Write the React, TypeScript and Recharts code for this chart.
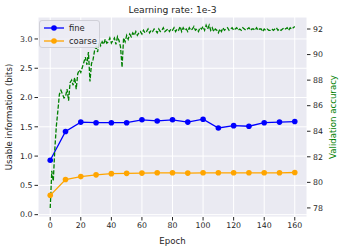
import React from 'react'
import { ComposedChart, Line, XAxis, YAxis, CartesianGrid, Label } from 'recharts'

// per-epoch validation accuracy (right axis)
const accuracy = [
  78.0, 80.9, 80.1, 82.6, 84.4, 85.6, 86.9, 87.2, 86.9, 86.6,
  86.7, 87.3, 86.4, 87.8, 88.0, 87.6, 88.2, 87.3, 88.5, 88.8,
  88.6, 89.0, 89.4, 89.8, 89.2, 90.2, 87.9, 89.3, 89.6, 90.3,
  90.6, 90.2, 91.0, 90.7, 91.0, 90.8, 91.2, 90.9, 91.0, 91.3,
  90.9, 91.1, 91.3, 90.8, 91.4, 91.1, 90.6, 89.0, 91.3, 91.0,
  91.5, 91.2, 91.6, 91.4, 91.7, 91.5, 91.8, 91.5, 91.7, 91.8,
  91.6, 91.9, 91.7, 91.8, 92.0, 91.7, 91.9, 91.8, 92.0, 91.9,
  91.7, 92.0, 91.8, 91.9, 92.1, 91.8, 91.9, 92.0, 91.8, 92.0,
  91.9, 92.1, 91.8, 92.0, 91.9, 92.2, 91.8, 92.1, 91.9, 92.0,
  91.8, 92.1, 91.9, 92.0, 92.2, 91.9, 92.0, 91.8, 92.1, 92.0,
  92.2, 91.9, 92.3, 92.0, 92.3, 91.9, 92.1, 91.8, 92.0, 91.9,
  91.7, 92.0, 91.8, 92.1, 91.9, 92.0, 92.1, 91.9, 92.0, 92.1,
  91.9, 92.0, 92.1, 91.9, 92.0, 91.9, 92.1, 92.0, 91.9, 92.0,
  92.1, 91.9, 92.0, 92.0, 91.9, 92.1, 91.9, 92.0, 92.0, 91.8,
  92.0, 91.9, 92.0, 91.9, 91.9, 92.0, 91.9, 92.0, 92.1, 91.9,
  92.0, 91.9, 92.0, 92.1, 92.0, 92.1, 91.9, 92.1, 92.0, 92.1, 92.2,
]

// usable information, measured every 10 epochs
const infoEpochs = [0, 10, 20, 30, 40, 50, 60, 70, 80, 90, 100, 110, 120, 130, 140, 150, 160]
const fine = [0.93, 1.42, 1.58, 1.57, 1.57, 1.57, 1.62, 1.6, 1.62, 1.58, 1.63, 1.48, 1.52, 1.51, 1.57, 1.58, 1.59]
const coarse = [0.33, 0.6, 0.65, 0.68, 0.7, 0.705, 0.71, 0.715, 0.715, 0.71, 0.715, 0.715, 0.715, 0.715, 0.715, 0.715, 0.72]

const xTicks = [0, 20, 40, 60, 80, 100, 120, 140, 160]
const leftTicks = [0, 0.5, 1, 1.5, 2, 2.5, 3]
const rightTicks = [78, 80, 82, 84, 86, 88, 90, 92]

const data = accuracy.map((acc, epoch) => {
  const i = infoEpochs.indexOf(epoch)
  return {
    epoch,
    acc,
    fine: i >= 0 ? fine[i] : null,
    coarse: i >= 0 ? coarse[i] : null,
  }
})

const FONT = 'DejaVu Sans, sans-serif'
const TEXT = '#262626'
const BLUE = '#0000ff'
const ORANGE = '#ffa500'
const GREEN = '#008000'

const legendItems = [
  { name: 'fine', color: BLUE },
  { name: 'coarse', color: ORANGE },
]

const LegendBox = () => (
  <div
    style={{
      position: 'absolute',
      left: 39,
      top: 20,
      background: 'rgba(236,236,244,0.85)',
      border: '1px solid #d0d0d8',
      borderRadius: 3,
      padding: '0px 0 0px 3px',
      width: 61,
      height: 28,
      boxSizing: 'border-box',
    }}
  >
    {legendItems.map((it) => (
      <div key={it.name} style={{ display: 'flex', alignItems: 'center', height: 13 }}>
        <svg width={22} height={10}>
          <line x1={1} y1={5} x2={21} y2={5} stroke={it.color} strokeWidth={1.3} />
          <circle cx={11} cy={5} r={2.8} fill={it.color} />
        </svg>
        <span style={{ fontSize: 8.4, color: TEXT, marginLeft: 4, fontFamily: FONT }}>{it.name}</span>
      </div>
    ))}
  </div>
)

const tickStyle = { fontSize: 7.8, fill: TEXT, fontFamily: FONT }

export default function App() {
  return (
    <div style={{ position: 'absolute', left: 0, top: 0, width: 343, height: 251, fontFamily: FONT }}>
      <div
        style={{
          position: 'absolute',
          left: 38,
          width: 269,
          top: 4,
          textAlign: 'center',
          fontSize: 9.2,
          color: TEXT,
          lineHeight: '12px',
        }}
      >
        Learning rate: 1e-3
      </div>
      <ComposedChart width={343} height={251} data={data} margin={{ top: 17, right: 0, bottom: 0, left: 0 }}>
        <CartesianGrid yAxisId="left" fill="#eaeaf2" stroke="#ffffff" strokeWidth={1} />
        <XAxis
          dataKey="epoch"
          type="number"
          domain={[-8, 168]}
          ticks={xTicks}
          height={34}
          axisLine={false}
          tickSize={3.5}
          tickMargin={2}
          tickLine={{ stroke: TEXT }}
          tick={tickStyle}
          allowDataOverflow
        >
          <Label
            content={() => (
              <text x={172.5} y={244} textAnchor="middle" fontSize={8.6} fill={TEXT} fontFamily={FONT}>
                Epoch
              </text>
            )}
          />
        </XAxis>
        <YAxis
          yAxisId="left"
          orientation="left"
          type="number"
          domain={[-0.04, 3.375]}
          ticks={leftTicks}
          tickFormatter={(v: number) => v.toFixed(1)}
          width={38}
          axisLine={false}
          tickSize={3.5}
          tickMargin={2}
          tickLine={{ stroke: TEXT }}
          tick={tickStyle}
          allowDataOverflow
        >
          <Label
            content={() => (
              <text
                x={12}
                y={117}
                textAnchor="middle"
                fontSize={8.6}
                fill={TEXT}
                fontFamily={FONT}
                transform="rotate(-90 12 117)"
              >
                Usable information (bits)
              </text>
            )}
          />
        </YAxis>
        <YAxis
          yAxisId="right"
          orientation="right"
          type="number"
          domain={[77.29, 92.94]}
          ticks={rightTicks}
          width={36}
          axisLine={false}
          tickSize={3.5}
          tickMargin={2.5}
          tickLine={{ stroke: TEXT }}
          tick={tickStyle}
          allowDataOverflow
        >
          <Label
            content={() => (
              <text
                x={336}
                y={117}
                textAnchor="middle"
                fontSize={8.6}
                fill={GREEN}
                fontFamily={FONT}
                transform="rotate(-90 336 117)"
              >
                Validation accuracy
              </text>
            )}
          />
        </YAxis>
        <Line
          yAxisId="left"
          dataKey="fine"
          stroke={BLUE}
          strokeWidth={1.3}
          dot={{ r: 2.8, fill: BLUE, stroke: BLUE, strokeWidth: 0 }}
          connectNulls
          isAnimationActive={false}
        />
        <Line
          yAxisId="left"
          dataKey="coarse"
          stroke={ORANGE}
          strokeWidth={1.3}
          dot={{ r: 2.8, fill: ORANGE, stroke: ORANGE, strokeWidth: 0 }}
          connectNulls
          isAnimationActive={false}
        />
        <Line
          yAxisId="right"
          dataKey="acc"
          stroke={GREEN}
          strokeWidth={1.3}
          strokeDasharray="4.2 1.8"
          dot={false}
          isAnimationActive={false}
        />
      </ComposedChart>
      <LegendBox />
    </div>
  )
}
